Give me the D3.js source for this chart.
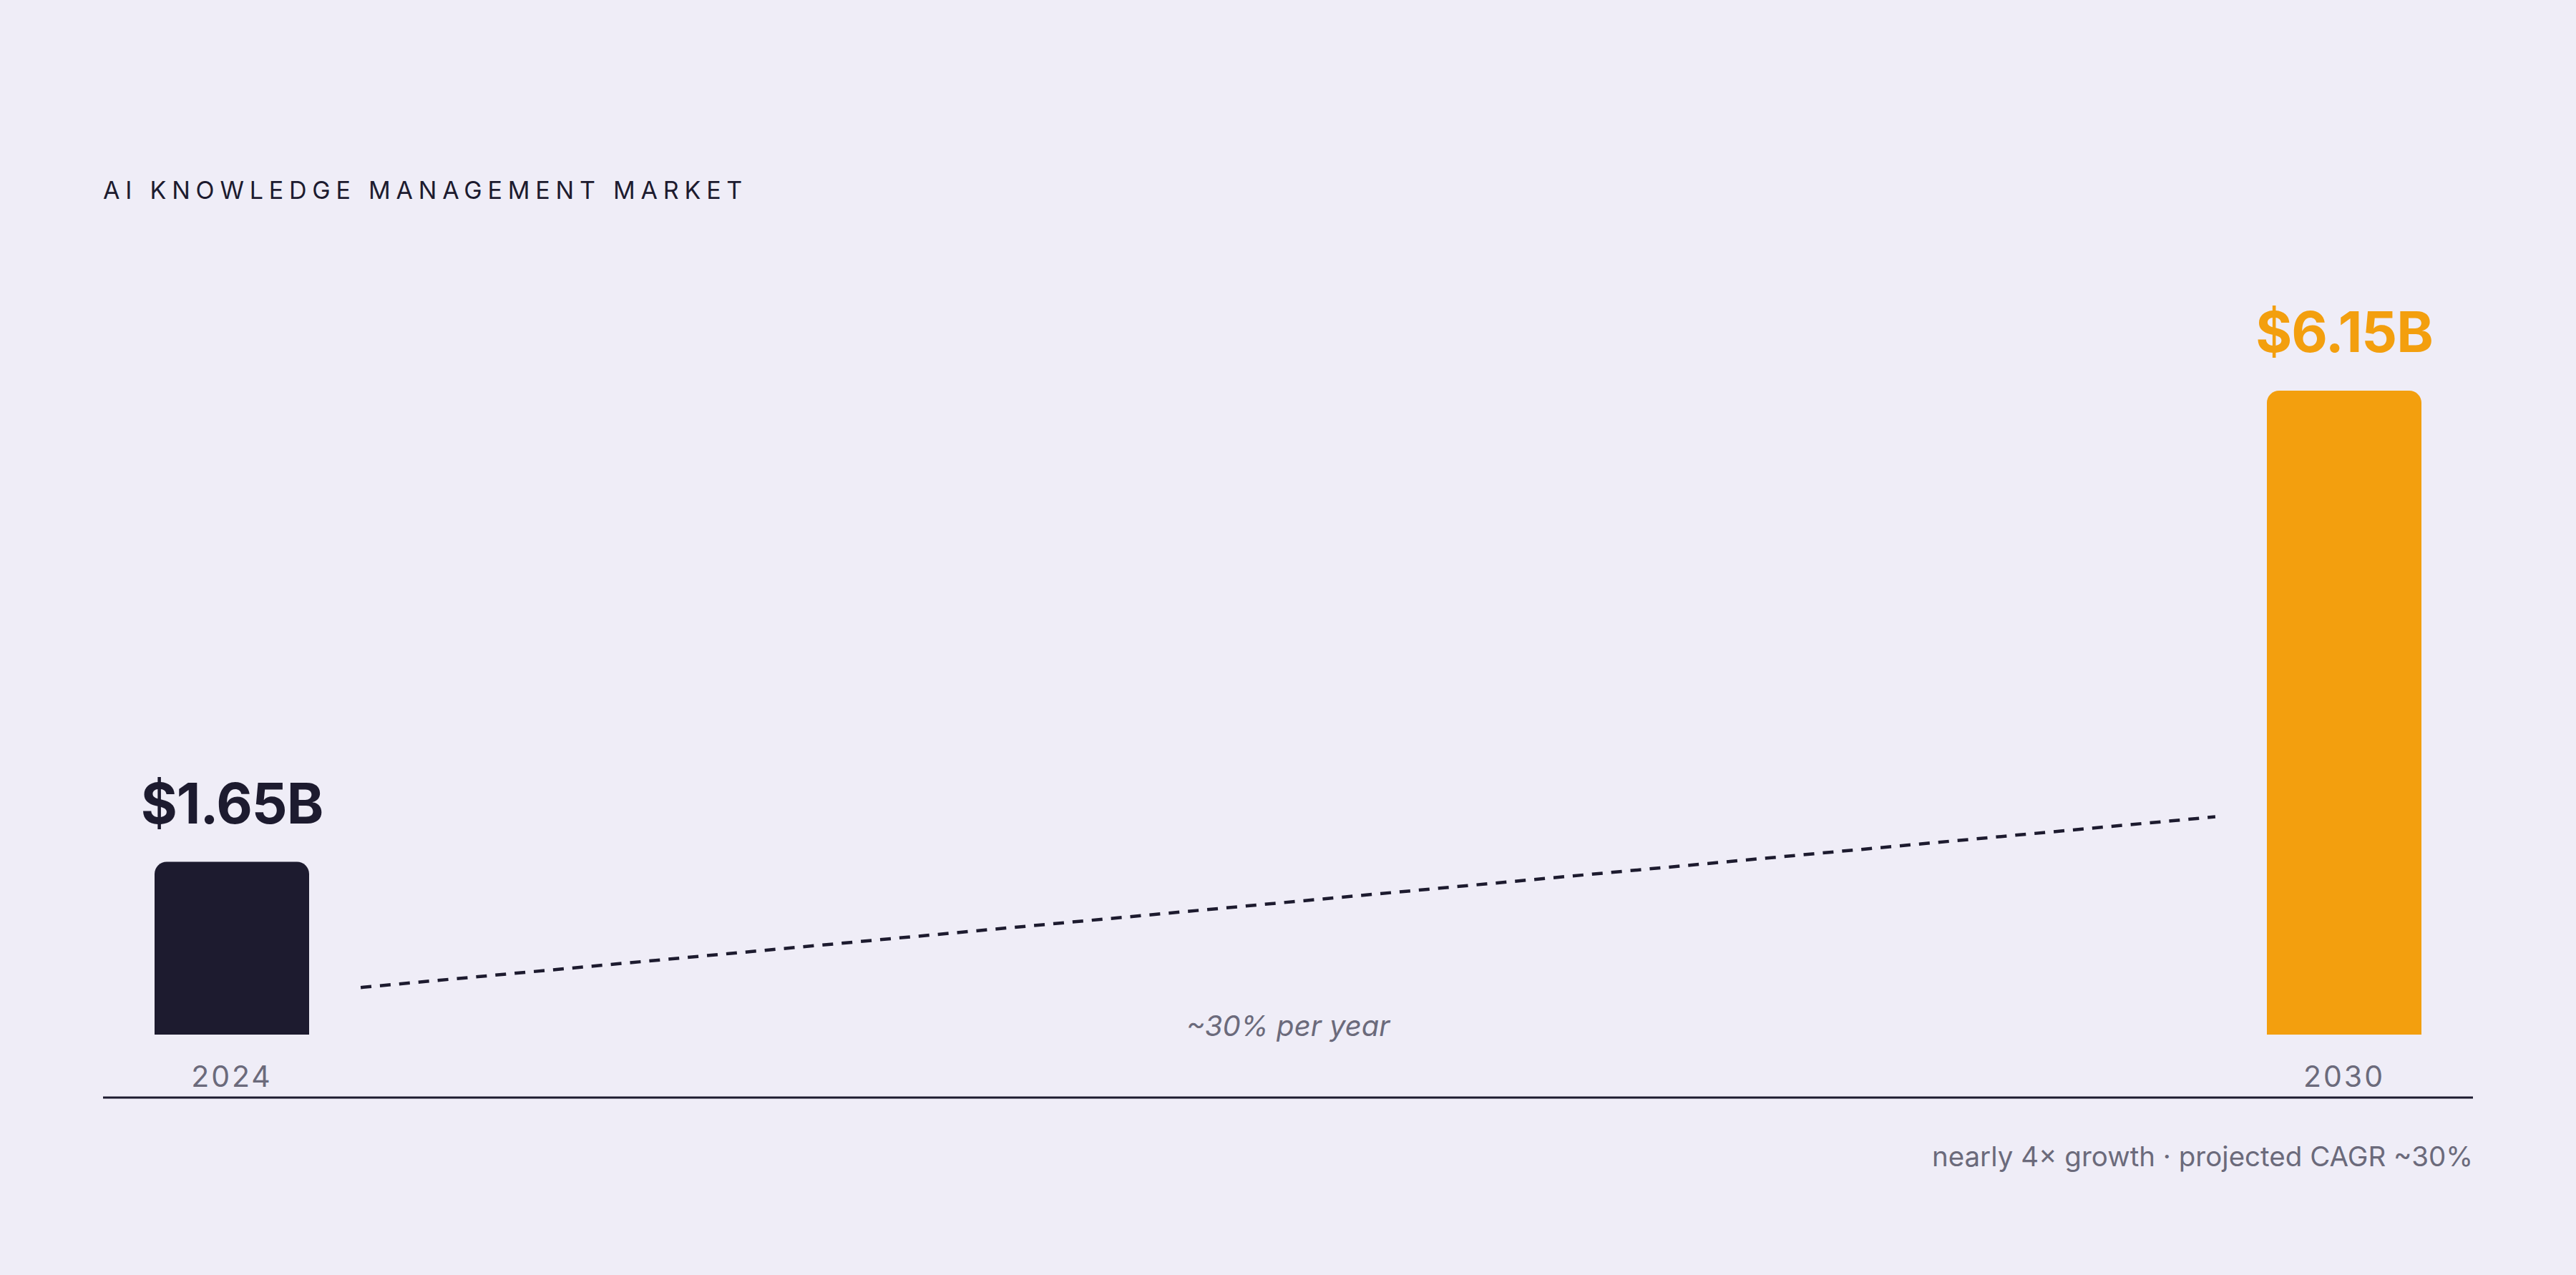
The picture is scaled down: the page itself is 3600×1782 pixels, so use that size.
<!DOCTYPE html>
<html>
<head>
<meta charset="utf-8">
<script src="https://cdn.jsdelivr.net/npm/d3@7"></script>
<style>
  html, body { margin: 0; padding: 0; background: #EFEDF7; }
  svg { display: block; }
  text { font-family: Inter, "Noto Sans", sans-serif; }
</style>
</head>
<body>
<svg id="chart" width="3600" height="1782"></svg>
<script>
// ---- data ----
const years = [2024, 2030];
const values = [1.65, 6.15];
const valueLabels = ["$1.65B", "$6.15B"];
const yearLabels = ["2024", "2030"];
const barColors = ["#1D1B2F", "#F39F0E"];
const titleText = "AI KNOWLEDGE MANAGEMENT MARKET";
const trendLabel = "~30% per year";
const footnote = "nearly 4× growth · projected CAGR ~30%";
// decorative trend connector (year, value in $B)
const trendYears = [2024.366, 2029.634];
const trendValues = [0.45, 2.08];

// ---- layout ----
const W = 3600, H = 1782;
const left = 144, right = 3456;
const baseY = 1446, axisY = 1534;
const barW = 216, radius = 17;

const svg = d3.select("#chart");
svg.append("rect").attr("width", W).attr("height", H).attr("fill", "#EFEDF7");

const x = d3.scaleLinear().domain([2024, 2030]).range([324, 3276]);
const y = d3.scaleLinear().domain([0, 6.15]).range([baseY, 546]);

// title
svg.append("text")
  .attr("x", left).attr("y", 278)
  .attr("font-size", 34).attr("letter-spacing", "7.8px")
  .attr("fill", "#1D1B2F").attr("font-weight", 400)
  .text(titleText);

const data = years.map((yr, i) => ({ yr, v: values[i], label: valueLabels[i], ylab: yearLabels[i], color: barColors[i] }));

function barPath(d) {
  const x0 = x(d.yr) - barW / 2, x1 = x(d.yr) + barW / 2;
  const y0 = y(d.v), y1 = y(0), r = radius;
  return `M${x0},${y1} L${x0},${y0 + r} A${r},${r} 0 0 1 ${x0 + r},${y0} L${x1 - r},${y0} A${r},${r} 0 0 1 ${x1},${y0 + r} L${x1},${y1} Z`;
}

svg.selectAll("path.bar").data(data).enter().append("path")
  .attr("class", "bar").attr("d", barPath).attr("fill", d => d.color);

svg.selectAll("text.val").data(data).enter().append("text")
  .attr("class", "val")
  .attr("x", d => x(d.yr)).attr("y", d => y(d.v) - 54)
  .attr("text-anchor", "middle").attr("font-size", 78).attr("font-weight", 700)
  .attr("letter-spacing", "-1px")
  .attr("fill", d => d.color).text(d => d.label);

svg.selectAll("text.yr").data(data).enter().append("text")
  .attr("class", "yr")
  .attr("x", d => x(d.yr)).attr("y", 1519)
  .attr("text-anchor", "middle").attr("font-size", 41)
  .attr("letter-spacing", "3px")
  .attr("fill", "#6B6A7B").text(d => d.ylab);

// trend line
const line = d3.line().x(d => x(d[0])).y(d => y(d[1]));
svg.append("path")
  .attr("d", line(trendYears.map((t, i) => [t, trendValues[i]])))
  .attr("fill", "none").attr("stroke", "#1D1B2F").attr("stroke-width", 4.5)
  .attr("stroke-dasharray", "15,12");

svg.append("text")
  .attr("x", x((years[0] + years[1]) / 2)).attr("y", 1448)
  .attr("text-anchor", "middle").attr("font-size", 40).attr("font-style", "italic")
  .attr("fill", "#6B6A7B").text(trendLabel);

// axis baseline
svg.append("line")
  .attr("x1", left).attr("x2", right).attr("y1", axisY).attr("y2", axisY)
  .attr("stroke", "#1D1B2F").attr("stroke-width", 3);

// footnote
svg.append("text")
  .attr("x", right).attr("y", 1630)
  .attr("text-anchor", "end").attr("font-size", 38.5)
  .attr("fill", "#6B6A7B").text(footnote);
</script>
</body>
</html>
